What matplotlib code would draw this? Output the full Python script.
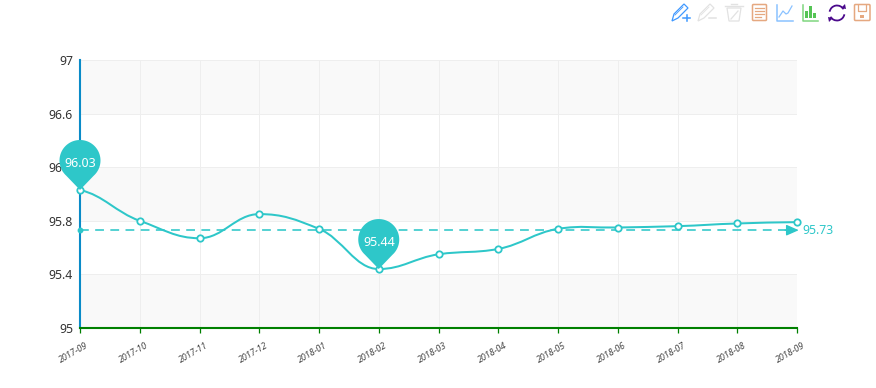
import matplotlib
matplotlib.use('Agg')
import numpy as np
import matplotlib.pyplot as plt
import matplotlib.patches as patches
from matplotlib.path import Path
from matplotlib.transforms import ScaledTranslation

# Data
months = ['2017-09', '2017-10', '2017-11', '2017-12', '2018-01', '2018-02', '2018-03',
          '2018-04', '2018-05', '2018-06', '2018-07', '2018-08', '2018-09']
values = [96.03, 95.8, 95.67, 95.85, 95.74, 95.44, 95.55, 95.59, 95.74, 95.75, 95.76, 95.78, 95.79]
y_ticks = [95, 95.4, 95.8, 96.2, 96.6, 97]
y_labels = ['95', '95.4', '95.8', '96.2', '96.6', '97']
mean_value = 95.73
max_point = (0, 96.03)
min_point = (5, 95.44)

teal = '#2ec7c9'
plt.rcParams['font.family'] = ['Noto Sans', 'DejaVu Sans']

W, H = 876, 388
fig = plt.figure(figsize=(W / 100, H / 100), dpi=100)
ax = fig.add_axes([80 / W, (H - 328) / H, (797 - 80) / W, (328 - 60) / H])
xs = np.arange(len(months))
ax.set_xlim(0, len(months) - 1)
ax.set_ylim(95, 97)

# bands and grid
for lo, hi in [(95, 95.4), (95.8, 96.2), (96.6, 97)]:
    ax.axhspan(lo, hi, color='#f9f9f9', lw=0, zorder=0)
ax.grid(True, color='#eeeeee', linewidth=0.72, zorder=1)
ax.set_axisbelow(True)

ax.set_yticks(y_ticks, y_labels, fontsize=8.8, color='#333333')
ax.tick_params(axis='y', length=0, pad=5)
ax.set_xticks(xs, months, fontsize=6.4, color='#444444', rotation=30, fontstyle='italic')
ax.tick_params(axis='x', length=3.6, width=0.9, color='#008000', pad=6)
shift = ScaledTranslation(-6 / 100, 0, fig.dpi_scale_trans)
for lab in ax.get_xticklabels():
    lab.set_transform(lab.get_transform() + shift)

for s in ['top', 'right']:
    ax.spines[s].set_visible(False)
ax.spines['left'].set_color('#0a8bc8')
ax.spines['left'].set_linewidth(1.5)
ax.spines['bottom'].set_color('#008000')
ax.spines['bottom'].set_linewidth(1.5)

# smooth line, bezier through the points
smooth = 0.35
verts = [(xs[0], values[0])]
codes = [Path.MOVETO]
for i in range(len(xs) - 1):
    y0 = values[max(i - 1, 0)]
    y1, y2 = values[i], values[i + 1]
    y3 = values[min(i + 2, len(xs) - 1)]
    c1 = y1 + smooth * (y2 - y0) * 0.5
    c2 = y2 - smooth * (y3 - y1) * 0.5
    # keep the curve from overshooting at the turning points
    if (y1 - y0) * (y2 - y1) < 0:
        c1 = y1
    if (y2 - y1) * (y3 - y2) < 0:
        c2 = y2
    verts += [(xs[i] + 0.4, c1), (xs[i + 1] - 0.4, c2), (xs[i + 1], y2)]
    codes += [Path.CURVE4] * 3
ax.add_patch(patches.PathPatch(Path(verts, codes), fill=False, edgecolor=teal, lw=1.45, zorder=3, clip_on=False))
ax.plot(xs, values, linestyle='None', marker='o', ms=4.6, mfc='white', mec=teal, mew=1.3, zorder=4, clip_on=False)

# average line
ax.plot([xs[0], xs[-1] - 0.1], [mean_value, mean_value], color=teal, lw=1.15, dashes=(5.5, 4), zorder=3)
ax.plot([xs[0]], [mean_value], marker='o', ms=3.2, color=teal, zorder=4, clip_on=False)
ax.annotate('', xy=(xs[-1] + 0.03, mean_value), xytext=(xs[-1] - 0.2, mean_value), annotation_clip=False,
            arrowprops=dict(arrowstyle='-|>,head_length=0.75,head_width=0.33', color=teal, lw=1.0, shrinkA=0, shrinkB=0), zorder=4)
ax.annotate('{:.2f}'.format(mean_value), (xs[-1], mean_value), xytext=(4, 0), textcoords='offset points',
            color=teal, fontsize=8.8, va='center', ha='left', annotation_clip=False)

# overlay in pixels for pins and toolbox
ov = fig.add_axes([0, 0, 1, 1], zorder=5)
ov.set_xlim(0, W)
ov.set_ylim(H, 0)
ov.axis('off')


def to_px(x, y):
    return ov.transData.inverted().transform(ax.transData.transform((x, y)))


def pin(x, y):
    px, py = to_px(x, y)
    r = 20.5
    cy = py - 29.5
    th = np.radians(np.linspace(-48, 228, 60))
    pts = [(px, py)] + [(px + r * np.cos(t), cy - r * np.sin(t)) for t in th] + [(px, py)]
    ov.add_patch(patches.Polygon(pts, closed=True, facecolor=teal, edgecolor='none'))
    ov.text(px, cy + 3, '{:.2f}'.format(y), color='white', fontsize=9, fontweight='medium', ha='center', va='center')


pin(*max_point)
pin(*min_point)

# toolbox icons
blue, grey, orange, lblue, green, purple = '#3e98ff', '#e2e2e2', '#e5a880', '#8ac2ff', '#7ed67e', '#4b0a8c'


def pencil(x0, col, sign):
    ov.add_patch(patches.Polygon([(x0, 21), (x0 + 2, 14), (x0 + 12, 4), (x0 + 16, 8), (x0 + 6, 18)],
                                 closed=True, fill=False, edgecolor=col, lw=0.9))
    ov.plot([x0 + 3, x0 + 11], [15, 7], color=col, lw=0.6)
    ov.plot([x0 + 11, x0 + 18], [18, 18], color=col, lw=1.1)
    if sign:
        ov.plot([x0 + 14.5, x0 + 14.5], [15, 21], color=col, lw=1.1)


pencil(672, blue, True)
pencil(698, grey, False)
# trash
ov.add_patch(patches.Polygon([(727, 8), (741, 8), (739, 21), (729, 21)], closed=True, fill=False, edgecolor=grey, lw=0.9))
ov.plot([725, 743], [6, 6], color=grey, lw=1.0)
ov.plot([731, 737], [4, 4], color=grey, lw=1.0)
ov.plot([731, 738], [19, 11], color=grey, lw=0.9)
# data view
ov.add_patch(patches.FancyBboxPatch((752.5, 4.5), 14, 16, boxstyle='round,pad=0,rounding_size=1', fill=False, edgecolor=orange, lw=1.1))
for yy, x1 in [(8, 764), (11, 764), (14, 764), (17, 761)]:
    ov.plot([755, x1], [yy, yy], color=orange, lw=0.9)
# line chart
ov.plot([777, 777, 793], [5, 20.5, 20.5], color=lblue, lw=1.1)
ov.plot([779, 783, 786, 788, 792], [17, 11, 14, 13, 6], color=lblue, lw=0.9)
# bar chart
ov.plot([803, 803, 818], [5, 20.5, 20.5], color=green, lw=1.1)
for bx, top in [(806, 11), (810, 6), (814, 13)]:
    ov.add_patch(patches.Rectangle((bx - 1, top), 2.5, 18 - top, color='#55c455', lw=0))
# refresh
ov.add_patch(patches.Arc((837, 13), 15, 15, theta1=190, theta2=330, color=purple, lw=1.3))
ov.add_patch(patches.Arc((837, 13), 15, 15, theta1=10, theta2=150, color=purple, lw=1.3))
ov.add_patch(patches.Polygon([(841, 8), (846, 9), (845, 4)], closed=True, color=purple, lw=0))
ov.add_patch(patches.Polygon([(833, 18), (828, 17), (829, 22)], closed=True, color=purple, lw=0))
# save
ov.add_patch(patches.FancyBboxPatch((854.5, 4.5), 15.5, 16, boxstyle='round,pad=0,rounding_size=1', fill=False, edgecolor=orange, lw=1.1))
ov.plot([858, 858, 866, 866], [5, 11, 11, 5], color=orange, lw=0.9)
ov.add_patch(patches.Rectangle((860, 15), 4, 2.5, color=orange, lw=0))

fig.savefig('out.png', dpi=100)
